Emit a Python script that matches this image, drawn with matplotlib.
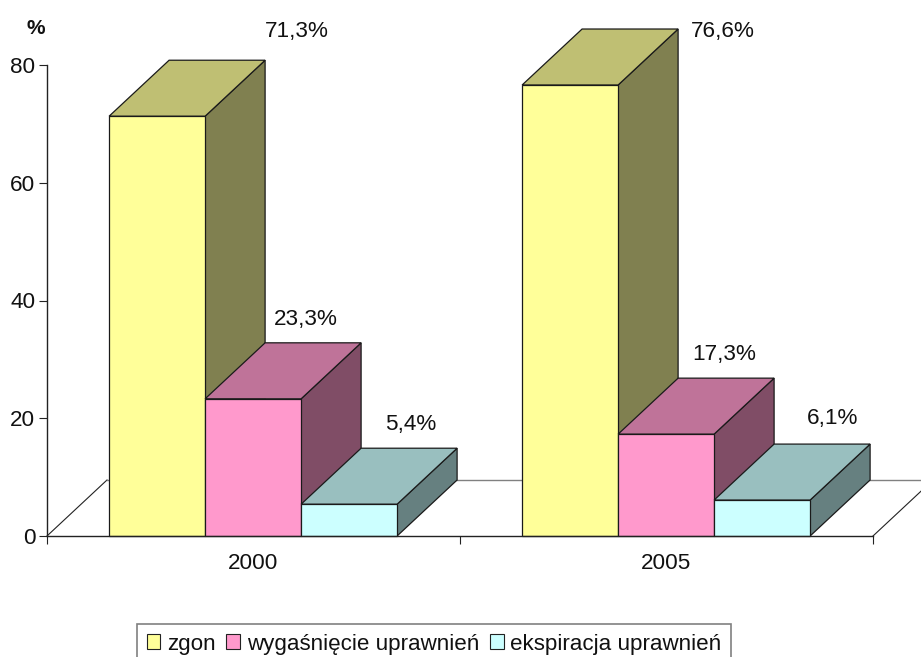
import matplotlib
matplotlib.use('Agg')
import matplotlib.pyplot as plt
from matplotlib.patches import Polygon, Patch

plt.rcParams['font.family'] = ['Liberation Sans', 'DejaVu Sans']

years = ['2000', '2005']
series_names = ['zgon', 'wygaśnięcie uprawnień', 'ekspiracja uprawnień']
zgon = [71.3, 76.6]
wygasniecie = [23.3, 17.3]
ekspiracja = [5.4, 6.1]
yticks = [0, 20, 40, 60, 80]

front_colors = ['#FFFF99', '#FF99CC', '#CCFFFF']
top_colors = ['#BFBF73', '#BF7399', '#99BFBF']
side_colors = ['#808050', '#804D66', '#668080']
edge = '#1a1a1a'

W, H = 921, 657
fig = plt.figure(figsize=(W / 100, H / 100), dpi=100)
# plot area in pixels: x 47-873, y 65-536
ax = fig.add_axes([47 / W, 1 - 536 / H, 826 / W, 471 / H])
ax.set_xlim(0, 2)
ax.set_ylim(0, 80)

# depth of the fake 3d, in data units
depth_x = 60 / 413
depth_y = 56 / (471 / 80)
bar_w = 96 / 413
nudge = -0.4 / 413

# floor
ax.plot([0, depth_x], [0, depth_y], color='#222222', lw=0.8, clip_on=False, zorder=1)
ax.plot([2, 2 + depth_x], [0, depth_y], color='#222222', lw=0.8, clip_on=False, zorder=1)
ax.plot([depth_x, 2 + depth_x], [depth_y, depth_y], color='#808080', lw=1.0, clip_on=False, zorder=1)

z = 2
for c in range(len(years)):
    vals = [zgon[c], wygasniecie[c], ekspiracja[c]]
    for i in range(3):
        x0 = c + 0.5 + (i - 1.5) * bar_w + nudge
        x1 = x0 + bar_w
        v = vals[i]
        top = [(x0, v), (x1, v), (x1 + depth_x, v + depth_y), (x0 + depth_x, v + depth_y)]
        side = [(x1, 0), (x1 + depth_x, depth_y), (x1 + depth_x, v + depth_y), (x1, v)]
        ax.add_patch(Polygon(side, closed=True, fc=side_colors[i], ec=edge, lw=0.9, clip_on=False, zorder=z))
        ax.add_patch(Polygon(top, closed=True, fc=top_colors[i], ec=edge, lw=0.9, clip_on=False, zorder=z))
        ax.bar(x0 + bar_w / 2, v, bar_w, color=front_colors[i], edgecolor=edge, lw=0.9, clip_on=False, zorder=z + 0.5)
        z += 1

# value labels, pixel offsets from the back right corner of each bar top
labels = [['71,3%', '23,3%', '5,4%'], ['76,6%', '17,3%', '6,1%']]
label_off = [[(31, 29), (-56, 23), (-47, 24)], [(44, -2), (-50, 24), (-38, 26)]]
for c in range(len(years)):
    vals = [zgon[c], wygasniecie[c], ekspiracja[c]]
    for i in range(3):
        x1 = c + 0.5 + (i - 0.5) * bar_w + depth_x
        ax.annotate(labels[c][i], (x1, vals[i] + depth_y), xytext=(label_off[c][i][0] * 0.72, label_off[c][i][1] * 0.72),
                    textcoords='offset points', ha='center', va='center', fontsize=16.2, color='#111111', zorder=50, annotation_clip=False)

for s in ['top', 'right']:
    ax.spines[s].set_visible(False)
for s in ['left', 'bottom']:
    ax.spines[s].set_linewidth(1.0)
    ax.spines[s].set_color('#222222')
    ax.spines[s].set_zorder(40)

ax.set_yticks(yticks)
ax.set_xticks([0, 1, 2])
ax.set_xticklabels([])
ax.set_xticks([0.5, 1.5], labels=years, minor=True)
ax.tick_params(axis='y', length=5.8, width=0.8, color='#222222', labelsize=16.2, pad=2.5, labelcolor='#111111')
ax.tick_params(axis='x', which='major', length=5.8, width=0.8, color='#222222')
ax.tick_params(axis='x', which='minor', length=0, labelsize=16.2, pad=12.2, labelcolor='#111111')

fig.text(36 / W, 1 - 28 / H, '%', fontsize=15, fontweight='bold', ha='center', va='center', color='#111111')

handles = [Patch(fc=front_colors[i], ec='#222222', lw=0.8) for i in range(3)]
leg = fig.legend(handles, series_names, ncol=3, loc='upper left', bbox_to_anchor=(137 / W, 1 - 624 / H),
                 borderaxespad=0, fontsize=16.1, frameon=True, fancybox=False, edgecolor='#808080',
                 handlelength=0.62, handleheight=0.62, handletextpad=0.3, columnspacing=0.47,
                 borderpad=0.43, labelcolor='#111111')
leg.get_frame().set_linewidth(1.2)
leg.get_frame().set_alpha(1)

fig.savefig('out.png', dpi=100)
